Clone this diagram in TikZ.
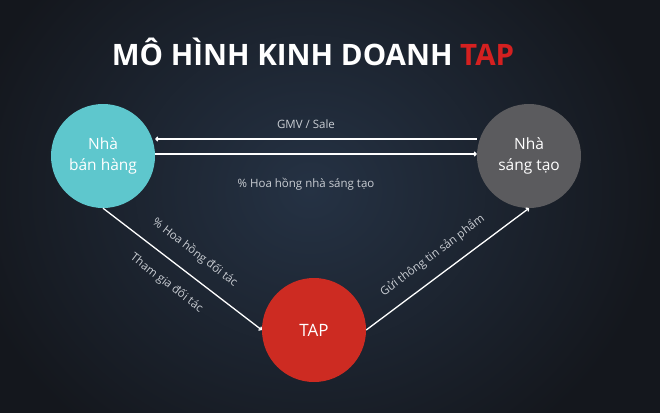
\documentclass[tikz,border=0pt]{standalone}
\usepackage{fontspec}
\setmainfont{Open Sans}
\usetikzlibrary{arrows.meta}
\definecolor{bgin}{HTML}{253244}
\definecolor{bgout}{HTML}{14171D}
\definecolor{tealc}{HTML}{5EC7CD}
\definecolor{grayc}{HTML}{5B5B5E}
\definecolor{redc}{HTML}{CD2B22}
\definecolor{titlered}{HTML}{D42020}
\definecolor{lbl}{HTML}{C9CDD3}
\tikzset{
  circ/.style={circle, minimum size=104pt, inner sep=0pt, text=white, align=center,
    font=\fontsize{15.5}{21}\selectfont},
  arr/.style={draw=white, line width=1.3pt, -{To[length=3pt,width=5pt]}},
  lab/.style={text=lbl, font=\fontsize{11.5}{13}\selectfont, inner sep=0pt},
}
\begin{document}
\begin{tikzpicture}[x=1pt,y=-1pt]
\useasboundingbox (0,0) rectangle (660,412);
\shade[inner color=bgin, outer color=bgout] (-40,-120) rectangle (660,500);
\node[anchor=base, font=\fontsize{29.5}{31}\selectfont\bfseries, text=white] (title) at (313,65.5)
  {MÔ HÌNH KINH DOANH \textcolor{titlered}{TAP}};
\node[circ, fill=tealc] (seller) at (103,156) {Nhà\\bán hàng};
\node[circ, fill=grayc] (creator) at (529,156) {Nhà\\sáng tạo};
\node[circ, fill=redc, font=\fontsize{17}{20}\selectfont] (tap) at (314,330) {TAP};
\draw[arr] ([yshift=17pt]creator.west) -- ([yshift=17pt]seller.east)
  node[lab, midway, above=10pt, xshift=-10pt] (gmv) {GMV / Sale};
\draw[arr] ([yshift=2pt]seller.east) -- ([yshift=2pt]creator.west)
  node[lab, midway, below=24pt, xshift=-10pt] (hhc) {\% Hoa hồng nhà sáng tạo};
\draw[arr] (seller.south) -- (tap.west)
  node[lab, pos=0.5, sloped, above=14pt] (hhp) {\% Hoa hồng đối tác}
  node[lab, pos=0.48, sloped, below=14pt] (tg) {Tham gia đối tác};
\draw[arr] (tap.east) -- (creator.south)
  node[lab, pos=0.48, sloped, above=13pt] (gui) {Gửi thông tin sản phẩm};
\end{tikzpicture}
\end{document}
